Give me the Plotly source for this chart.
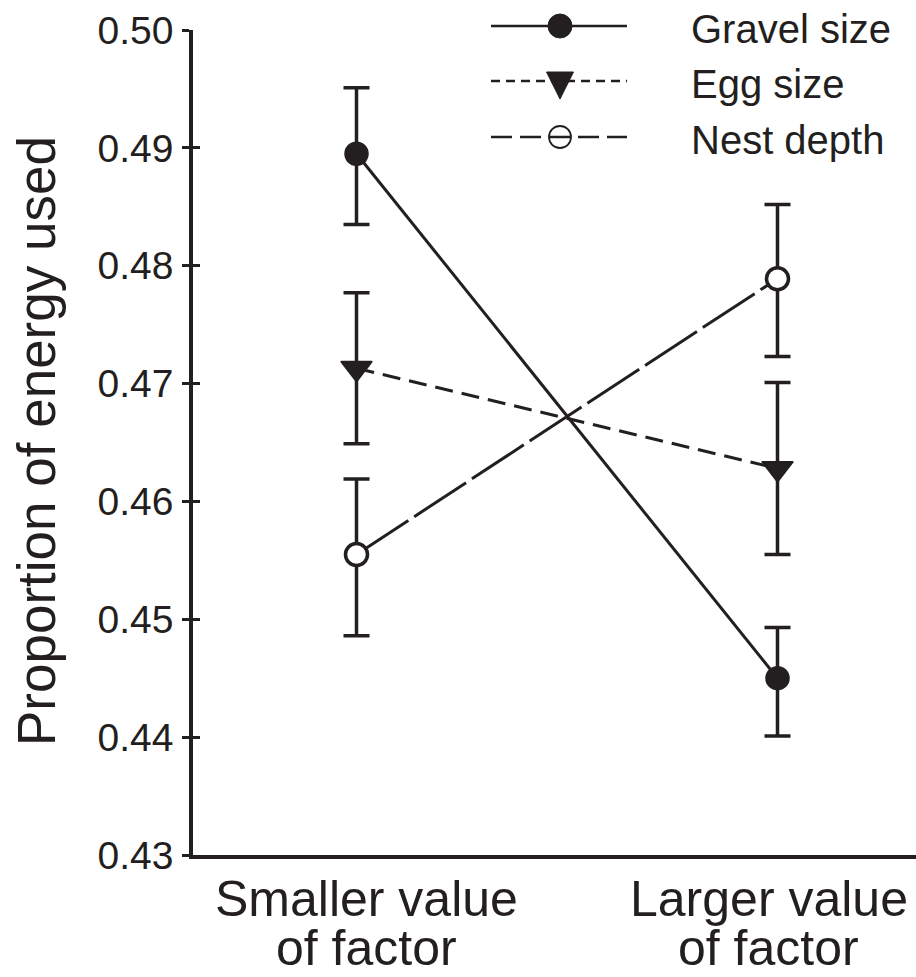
import plotly.graph_objects as go

# ---------------- data ----------------
positions = [0, 1]
category_line1 = ["Smaller value", "Larger value"]
category_line2 = ["of factor", "of factor"]

series_names = ["Gravel size", "Egg size", "Nest depth"]
gravel = [0.4895, 0.4450]
gravel_err_plus = [0.0056, 0.0043]
gravel_err_minus = [0.0060, 0.0049]

egg = [0.4713, 0.4628]
egg_err_plus = [0.0064, 0.0073]
egg_err_minus = [0.0064, 0.0073]

nest = [0.4555, 0.4789]
nest_err_plus = [0.0064, 0.0063]
nest_err_minus = [0.0069, 0.0066]

y_tickvals = [0.43, 0.44, 0.45, 0.46, 0.47, 0.48, 0.49, 0.50]
y_ticktext = ["0.43", "0.44", "0.45", "0.46", "0.47", "0.48", "0.49", "0.50"]

# ---------------- style ----------------
INK = "#231f20"
FONT = "Liberation Sans, Arial, sans-serif"
W, H = 916, 977
ML, MR, MT, MB = 193, 0, 30, 122
PW, PH = W - ML - MR, H - MT - MB


def px2paper_x(px):
    return (px - ML) / PW


def px2paper_y(py):
    return (H - MB - py) / PH


def err(plus, minus):
    return dict(type="data", symmetric=False, array=plus, arrayminus=minus,
                color=INK, thickness=3.5, width=13)


fig = go.Figure()

fig.add_trace(go.Scatter(
    x=positions, y=gravel, mode="lines+markers", name=series_names[0],
    line=dict(color=INK, width=3),
    marker=dict(symbol="circle", size=23, color=INK, line=dict(color=INK, width=1.5)),
    error_y=err(gravel_err_plus, gravel_err_minus), showlegend=False))

fig.add_trace(go.Scatter(
    x=positions, y=egg, mode="lines+markers", name=series_names[1],
    line=dict(color=INK, width=3, dash="18px,9px"),
    marker=dict(symbol="triangle-down", size=27, color=INK, line=dict(color=INK, width=1.5)),
    error_y=err(egg_err_plus, egg_err_minus), showlegend=False))

fig.add_trace(go.Scatter(
    x=positions, y=nest, mode="lines+markers", name=series_names[2],
    line=dict(color=INK, width=3, dash="62px,7px"),
    marker=dict(symbol="circle", size=22, color="white", line=dict(color=INK, width=3.5)),
    error_y=err(nest_err_plus, nest_err_minus), showlegend=False))

# empty trace to register the overlay axis (inner half of the crossing ticks)
fig.add_trace(go.Scatter(x=[], y=[], yaxis="y2", showlegend=False, hoverinfo="skip"))

# ---------------- legend (drawn manually) ----------------
leg_x0, leg_x1, leg_mx, leg_tx = 491, 627, 560, 689
leg_rows = [26, 81, 137]
leg_dash = ["solid", "9px,6px", "21px,8px"]
shapes = []
annotations = []
for i, name in enumerate(series_names):
    yy = px2paper_y(leg_rows[i])
    shapes.append(dict(type="line", xref="paper", yref="paper",
                       x0=px2paper_x(leg_x0), x1=px2paper_x(leg_x1), y0=yy, y1=yy,
                       line=dict(color=INK, width=2.5, dash=leg_dash[i])))
    annotations.append(dict(xref="paper", yref="paper", x=px2paper_x(leg_tx),
                            y=px2paper_y(leg_rows[i] + 3),
                            xanchor="left", yanchor="middle", text=name, showarrow=False,
                            font=dict(family=FONT, size=40, color=INK)))
# legend markers
mx = px2paper_x(leg_mx)
shapes.append(dict(type="circle", xref="paper", yref="paper", xsizemode="pixel", ysizemode="pixel",
                   xanchor=mx, yanchor=px2paper_y(leg_rows[0]), x0=-12, x1=12, y0=-12, y1=12,
                   fillcolor=INK, line=dict(color=INK, width=1)))
shapes.append(dict(type="path", xref="paper", yref="paper", xsizemode="pixel", ysizemode="pixel",
                   xanchor=mx, yanchor=px2paper_y(leg_rows[1]),
                   path="M-13.5,9 L13.5,9 L0,-18 Z",
                   fillcolor=INK, line=dict(color=INK, width=1)))
shapes.append(dict(type="circle", xref="paper", yref="paper", xsizemode="pixel", ysizemode="pixel",
                   xanchor=mx, yanchor=px2paper_y(leg_rows[2]), x0=-11, x1=11, y0=-11, y1=11,
                   fillcolor="rgba(0,0,0,0)", line=dict(color=INK, width=1.8)))

# ---------------- category labels (two tight lines) ----------------
label_shift = [10, -9]
for i, p in enumerate(positions):
    annotations.append(dict(xref="x", yref="paper", x=p, y=px2paper_y(899), xshift=label_shift[i],
                            xanchor="center", yanchor="middle", text=category_line1[i],
                            showarrow=False, font=dict(family=FONT, size=50, color=INK)))
    annotations.append(dict(xref="x", yref="paper", x=p, y=px2paper_y(948), xshift=label_shift[i],
                            xanchor="center", yanchor="middle", text=category_line2[i],
                            showarrow=False, font=dict(family=FONT, size=50, color=INK)))

# y axis title
annotations.append(dict(xref="paper", yref="paper", x=px2paper_x(36), y=px2paper_y(441),
                        xanchor="center", yanchor="middle", textangle=-90,
                        text="Proportion of energy used", showarrow=False,
                        font=dict(family=FONT, size=53, color=INK)))

x_left = (ML - 356.5) / 421.0
x_right = (W - MR - 356.5) / 421.0

fig.update_layout(
    width=W, height=H,
    margin=dict(l=ML, r=MR, t=MT, b=MB, pad=0),
    paper_bgcolor="white", plot_bgcolor="white",
    font=dict(family=FONT, color=INK),
    showlegend=False,
    xaxis=dict(range=[x_left, x_right], showgrid=False, zeroline=False,
               showline=True, linecolor=INK, linewidth=3.5,
               ticks="", showticklabels=False, fixedrange=True),
    yaxis=dict(range=[0.43, 0.50], showgrid=False, zeroline=False,
               showline=True, linecolor=INK, linewidth=3.5,
               tickmode="array", tickvals=y_tickvals, ticktext=y_ticktext,
               ticks="outside", ticklen=7, tickwidth=3, tickcolor=INK,
               ticklabelstandoff=1,
               tickfont=dict(family=FONT, size=39, color=INK)),
    yaxis2=dict(range=[0.43, 0.50], overlaying="y", anchor="x", side="left",
                showgrid=False, zeroline=False, showline=False,
                tickmode="array", tickvals=y_tickvals,
                ticks="inside", ticklen=7, tickwidth=3, tickcolor=INK,
                showticklabels=False),
    shapes=shapes,
    annotations=annotations,
)

fig.write_html("out.html")
